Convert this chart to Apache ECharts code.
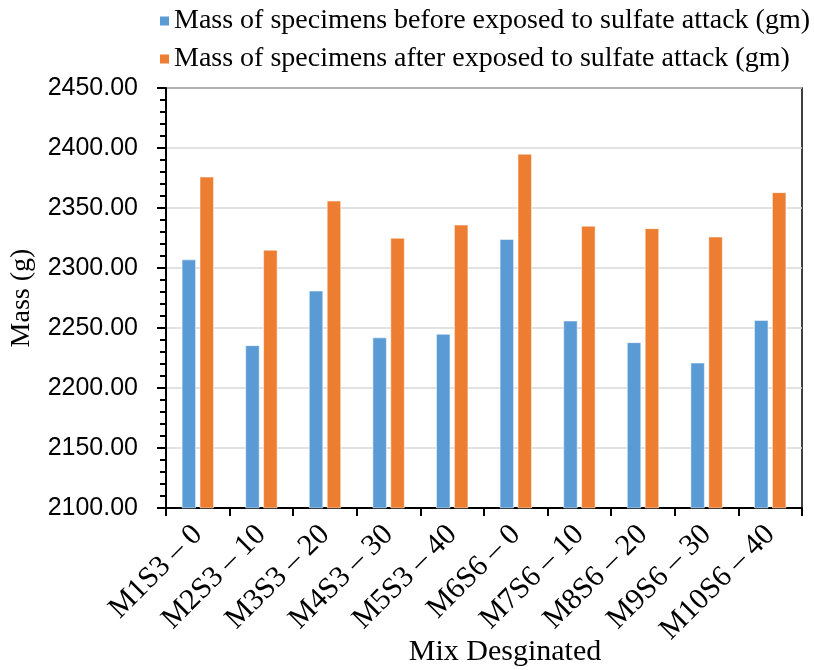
<!DOCTYPE html>
<html>
<head>
<meta charset="utf-8">
<script src="https://cdn.jsdelivr.net/npm/echarts@6/dist/echarts.min.js"></script>
<style>
  html, body { margin: 0; padding: 0; background: #fff; }
  #chart { width: 814px; height: 670px; }
</style>
</head>
<body>
<div id="chart"></div>
<script>
// Mix designations along the x axis
const mixes = [
  'M1S3 – 0', 'M2S3 – 10', 'M3S3 – 20', 'M4S3 – 30', 'M5S3 – 40',
  'M6S6 – 0', 'M7S6 – 10', 'M8S6 – 20', 'M9S6 – 30', 'M10S6 – 40'
];

// Specimen mass before and after sulfate exposure (g)
const massBefore = [2307, 2235.5, 2281, 2242, 2245, 2324, 2256, 2238, 2221, 2256.5];
const massAfter  = [2376, 2315, 2356, 2325, 2336, 2395, 2335, 2333, 2326, 2363];

const seriesNames = [
  'Mass of specimens before exposed to sulfate attack (gm)',
  'Mass of specimens after exposed to sulfate attack (gm)'
];

// Y axis range
const yMin = 2100;
const yMax = 2450;
const yStep = 50;

const serif = '"Liberation Serif", "Times New Roman", serif';
const sans = '"Liberation Sans", Arial, sans-serif';

const chart = echarts.init(document.getElementById('chart'), null, { renderer: 'canvas' });

chart.setOption({
  animation: false,
  backgroundColor: '#fff',
  legend: {
    orient: 'vertical',
    left: 153,
    top: 2,
    itemWidth: 11,
    itemHeight: 11,
    itemGap: 10,
    icon: 'rect',
    textStyle: { fontFamily: serif, fontSize: 28, color: '#000', padding: [0, 0, 0, -1] },
    data: seriesNames
  },
  grid: {
    left: 166,
    right: 12,
    top: 88,
    bottom: 162,
    outerBoundsMode: 'none',
    containLabel: false,
    show: true,
    borderColor: '#000',
    borderWidth: 1.5
  },
  xAxis: {
    type: 'category',
    data: mixes,
    name: 'Mix Desginated',
    nameLocation: 'middle',
    nameGap: 129,
    nameMoveOverlap: false,
    nameTextStyle: { fontFamily: serif, fontSize: 30, color: '#000', padding: [0, 0, 0, 42] },
    axisLine: { lineStyle: { color: '#000', width: 2 } },
    axisTick: { show: true, length: 8, lineStyle: { color: '#000', width: 2 } },
    axisLabel: {
      rotate: 45,
      interval: 0,
      margin: 22,
      fontFamily: serif,
      fontSize: 30,
      color: '#000'
    },
    splitLine: { show: false }
  },
  yAxis: {
    type: 'value',
    min: yMin,
    max: yMax,
    interval: yStep,
    name: 'Mass (g)',
    nameLocation: 'middle',
    nameGap: 130,
    nameMoveOverlap: false,
    nameRotate: 90,
    nameTextStyle: { fontFamily: serif, fontSize: 28, color: '#000' },
    axisLine: { show: true, lineStyle: { color: '#000', width: 2 } },
    axisTick: { show: true, inside: false, length: 9, lineStyle: { color: '#000', width: 2 } },
    minorTick: { show: true, splitNumber: 5, length: 6, lineStyle: { color: '#000', width: 2 } },
    axisLabel: {
      margin: 28,
      fontFamily: sans,
      fontSize: 25,
      color: '#000',
      formatter: v => v.toFixed(2)
    },
    splitLine: { show: true, lineStyle: { color: '#d9d9d9', width: 1.5 } }
  },
  series: [
    {
      name: seriesNames[0],
      type: 'bar',
      data: massBefore,
      barWidth: 14,
      barGap: '28%',
      itemStyle: { color: '#5B9BD5', borderColor: '#fff', borderWidth: 0.5 }
    },
    {
      name: seriesNames[1],
      type: 'bar',
      data: massAfter,
      barWidth: 14,
      barGap: '28%',
      itemStyle: { color: '#ED7D31', borderColor: '#fff', borderWidth: 0.5 }
    }
  ]
});
</script>
</body>
</html>
